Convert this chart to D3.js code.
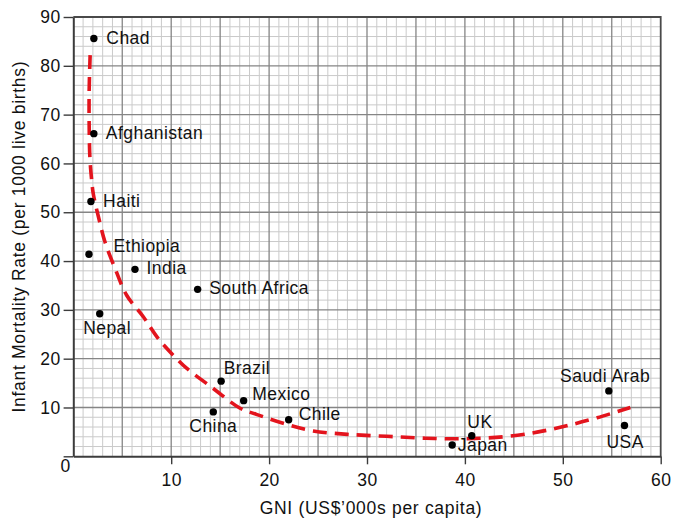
<!DOCTYPE html>
<html>
<head>
<meta charset="utf-8">
<script src="https://cdn.jsdelivr.net/npm/d3@7"></script>
<style>
  html, body { margin: 0; padding: 0; background: #fff; }
  svg text { font-family: "Liberation Sans", Arial, Helvetica, sans-serif; font-size: 17.5px; letter-spacing: 0.45px; fill: #111; }
  svg text.title { letter-spacing: 0.7px; }
</style>
</head>
<body>
<svg id="chart" width="683" height="519"></svg>
<script>
// Countries: GNI (US$'000s per capita) and infant mortality (per 1000 live births)
const countries = ["Chad", "Afghanistan", "Haiti", "Ethiopia", "India", "South Africa", "Nepal",
                   "Brazil", "China", "Mexico", "Chile", "Japan", "UK", "Saudi Arab", "USA"];
const gni       = [2.1, 2.1, 1.8, 1.6, 6.3, 12.7, 2.7, 15.1, 14.3, 17.4, 22.0, 38.7, 40.7, 54.7, 56.3];
const mortality = [85.6, 66.1, 52.2, 41.4, 38.3, 34.2, 29.2, 15.4, 9.1, 11.4, 7.5, 2.3, 4.2, 13.4, 6.3];

// Trend line drawn through the fitted curve's sample points (GNI, mortality)
const trendGni  = [1.72, 1.62, 1.62, 1.7, 1.88, 2.04, 2.66, 3.24, 4.26, 5.45, 7.15, 8.68, 10.7,
                   11.6, 14.3, 17.0, 18.7, 21.7, 24.5, 28.0, 32.0, 36.0, 40.0, 44.0, 47.5, 50.5, 53.5, 56.9];
const trendRate = [82.2, 75.0, 68.0, 61.0, 56.5, 53.8, 48.3, 43.9, 38.5, 33.0, 28.6, 24.1, 19.7,
                   18.0, 13.9, 9.9, 8.6, 6.6, 5.2, 4.5, 4.1, 3.7, 3.6, 4.0, 5.0, 6.3, 7.9, 10.0];

// Axis ticks
const xTicks = [10, 20, 30, 40, 50, 60];
const yTicks = [0, 10, 20, 30, 40, 50, 60, 70, 80, 90];

// Label placement relative to each dot: [dx, dy] of text start / baseline
const labelOffset = {
  "Chad": [12.5, 5.6], "Afghanistan": [12, 5.2], "Haiti": [12.2, 5.7], "Ethiopia": [24.5, -2.3],
  "India": [11.6, 5], "South Africa": [11.5, 5], "Nepal": [-16.6, 20.5], "Brazil": [2.6, -6.7],
  "China": [-24, 20.6], "Mexico": [8.7, -0.7], "Chile": [10, 0.3], "Japan": [5.6, 6.4],
  "UK": [-4.4, -8], "Saudi Arab": [-48.7, -9.3], "USA": [-18, 22]
};

const W = 683, H = 519;
const margin = { left: 73.3, right: 22.3, top: 17, bottom: 62.7 };
const svg = d3.select("#chart");

const x = d3.scaleLinear().domain([0, 60]).range([margin.left, W - margin.right]);
const y = d3.scaleLinear().domain([0, 90]).range([H - margin.bottom, margin.top]);

// Graph-paper grid: minor lines every 1 (x) / 2 (y), major every 5 (x) / 10 (y)
const grid = svg.append("g");
grid.selectAll(".vminor").data(d3.range(1, 60).filter(v => v % 5 !== 0)).join("line")
  .attr("x1", d => x(d)).attr("x2", d => x(d)).attr("y1", y(0)).attr("y2", y(90))
  .attr("stroke", "#cacaca").attr("stroke-width", 1);
grid.selectAll(".hminor").data(d3.range(2, 90, 2).filter(v => v % 10 !== 0)).join("line")
  .attr("y1", d => y(d)).attr("y2", d => y(d)).attr("x1", x(0)).attr("x2", x(60))
  .attr("stroke", "#cacaca").attr("stroke-width", 1);
grid.selectAll(".vmajor").data(d3.range(5, 60, 5)).join("line")
  .attr("x1", d => x(d)).attr("x2", d => x(d)).attr("y1", y(0)).attr("y2", y(90))
  .attr("stroke", "#858585").attr("stroke-width", 1.3);
grid.selectAll(".hmajor").data(d3.range(10, 90, 10)).join("line")
  .attr("y1", d => y(d)).attr("y2", d => y(d)).attr("x1", x(0)).attr("x2", x(60))
  .attr("stroke", "#858585").attr("stroke-width", 1.3);

// Frame: top and right edges
svg.append("path")
  .attr("d", `M${x(0)},${y(90)}H${x(60)}V${y(0)}`)
  .attr("fill", "none").attr("stroke", "#4a4a4a").attr("stroke-width", 1.8);

// Axes
const xAxis = svg.append("g").attr("transform", `translate(0,${y(0)})`)
  .call(d3.axisBottom(x).tickValues(xTicks).tickSize(8).tickSizeOuter(0).tickPadding(9));
const yAxis = svg.append("g").attr("transform", `translate(${x(0)},0)`)
  .call(d3.axisLeft(y).tickValues(yTicks).tickSize(9.7).tickSizeOuter(0).tickPadding(3));
[xAxis, yAxis].forEach(g => {
  g.select(".domain").attr("stroke", "#3c3c3c").attr("stroke-width", 2);
  g.selectAll(".tick line").attr("stroke", "#3c3c3c").attr("stroke-width", 1.4);
  g.selectAll(".tick text").attr("fill", "#111").style("font-size", "17.5px");
  g.attr("font-family", null).attr("font-size", null);
});
// the origin label sits in the corner below the axis line
yAxis.selectAll(".tick").filter(d => d === 0).select("text")
  .attr("x", -2.6).attr("y", 14.8).attr("dy", 0);

// Trend curve
const line = d3.line()
  .x((d, i) => x(trendGni[i]))
  .y((d, i) => y(trendRate[i]))
  .curve(d3.curveCatmullRom.alpha(0.5));
svg.append("path")
  .datum(trendGni)
  .attr("d", line)
  .attr("fill", "none")
  .attr("stroke", "#e3141d")
  .attr("stroke-width", 3.6)
  .attr("stroke-dasharray", "14,8");

// Country dots and labels
const pts = svg.append("g");
pts.selectAll("circle").data(countries).join("circle")
  .attr("cx", (d, i) => x(gni[i]))
  .attr("cy", (d, i) => y(mortality[i]))
  .attr("r", 3.7)
  .attr("fill", "#000");
pts.selectAll("text").data(countries).join("text")
  .attr("x", (d, i) => x(gni[i]) + labelOffset[d][0])
  .attr("y", (d, i) => y(mortality[i]) + labelOffset[d][1])
  .text(d => d);

// Axis titles
svg.append("text")
  .attr("class", "title")
  .attr("x", (x(0) + x(60)) / 2 + 4)
  .attr("y", 514)
  .attr("text-anchor", "middle")
  .text("GNI (US$\u2019000s per capita)");
svg.append("text")
  .attr("class", "title")
  .attr("transform", `translate(25,${(y(0) + y(90)) / 2}) rotate(-90)`)
  .attr("text-anchor", "middle")
  .text("Infant Mortality Rate (per 1000 live births)");
</script>
</body>
</html>
